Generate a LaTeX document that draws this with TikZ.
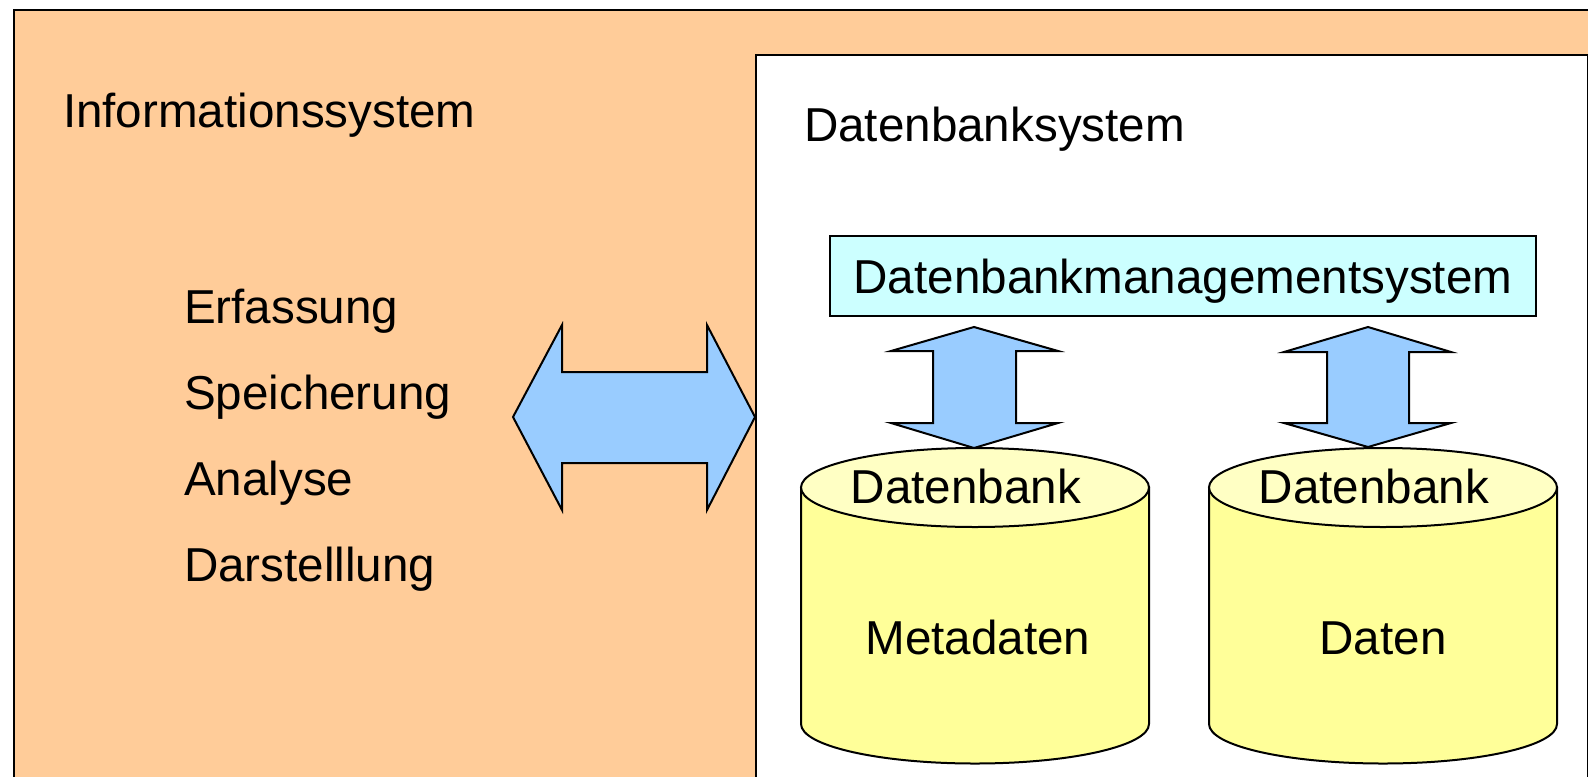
\documentclass[tikz,border=0pt]{standalone}
\usepackage{fontspec}
\setmainfont{Liberation Sans}
\definecolor{infoorange}{HTML}{FFCC99}
\definecolor{dbmsblue}{HTML}{CCFFFF}
\definecolor{arrowblue}{HTML}{99CCFF}
\definecolor{cylside}{HTML}{FFFF99}
\definecolor{cyltop}{HTML}{FFFFC4}
\begin{document}
\begin{tikzpicture}[x=0.5pt,y=-0.5pt,line width=1pt,line join=miter,
  lbl/.style={font=\fontsize{23.8}{28}\selectfont,inner sep=0pt,anchor=base west},
  clbl/.style={font=\fontsize{23.8}{28}\selectfont,inner sep=0pt,anchor=base},
  blockarrow/.style={draw=black,fill=arrowblue},
  cylbody/.style={draw=black,fill=cylside},
  cylcap/.style={draw=black,fill=cyltop}]
\useasboundingbox (0,0) rectangle (1588,776);
\clip (0,0) rectangle (1588,776);
% outer information system box
\node (info) [draw=black,fill=infoorange,anchor=north west,inner sep=0pt,
  minimum width=803.5pt,minimum height=395.5pt] at (13,9) {};
% inner database system box
\node (dbs) [draw=black,fill=white,anchor=north west,inner sep=0pt,
  minimum width=416pt,minimum height=373pt] at (755,54) {};
% texts left
\node (infot) [lbl] at (62,127) {Informationssystem};
\node (erf) [lbl] at (183,323) {Erfassung};
\node (spe) [lbl] at (183,409) {Speicherung};
\node (ana) [lbl] at (183,495) {Analyse};
\node (dar) [lbl] at (183,581) {Darstelllung};
\node (dbst) [lbl] at (803,141) {Datenbanksystem};
% DBMS box
\node (dbms) [draw=black,fill=dbmsblue,inner sep=0pt,
  minimum width=353pt,minimum height=40pt] at (1183,276) {};
\node (dbmst) [clbl] at (1183,293) {Datenbankmanagementsystem};
% horizontal double arrow
\draw[blockarrow] (513,417) -- (562,325) -- (562,372) -- (707,372) -- (707,325)
  -- (755,417) -- (707,510) -- (707,463) -- (562,463) -- (562,510) -- cycle;
% vertical double arrows
\draw[blockarrow] (974,327) -- (1058,351) -- (1016,351) -- (1016,423) -- (1058,423)
  -- (974,448) -- (891,423) -- (933,423) -- (933,351) -- (891,351) -- cycle;
\draw[blockarrow] (1368,327) -- (1451,352) -- (1409,352) -- (1409,423) -- (1451,423)
  -- (1368,447) -- (1284,423) -- (1327,423) -- (1327,352) -- (1284,352) -- cycle;
% cylinders
\coordinate (cylA) at (975,487.5);
\coordinate (cylB) at (1383,487.5);
\path[cylbody] (801,487.5) -- (801,724)
  arc[start angle=180,end angle=0,x radius=174,y radius=39.5] -- (1149,487.5) -- cycle;
\draw[cylcap] (cylA) ellipse [x radius=174,y radius=39.5];
\path[cylbody] (1209,487.5) -- (1209,724)
  arc[start angle=180,end angle=0,x radius=174,y radius=39.5] -- (1557,487.5) -- cycle;
\draw[cylcap] (cylB) ellipse [x radius=174,y radius=39.5];
\node (dbA) [clbl] at (966,503) {Datenbank};
\node (dbB) [clbl] at (1374,503) {Datenbank};
\node (meta) [clbl] at (978,654) {Metadaten};
\node (daten) [clbl] at (1383,654) {Daten};
\end{tikzpicture}
\end{document}
